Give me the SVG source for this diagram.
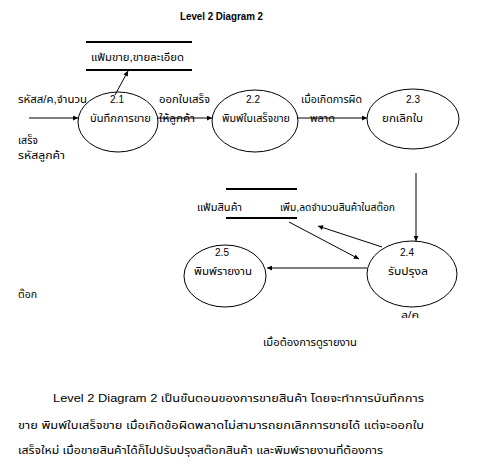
<svg xmlns="http://www.w3.org/2000/svg" width="494" height="467" viewBox="0 0 494 467">
<defs>
<style>
text{font-family:"Liberation Sans","Noto Sans Thai","Noto Sans",sans-serif;font-size:10px;fill:#000}
.t{font-weight:bold}
.c{text-anchor:middle}
.proc{fill:none;stroke:#000;stroke-width:1}
.store{stroke:#000;stroke-width:2}
.flow{stroke:#000;stroke-width:1;fill:none;marker-end:url(#ah)}
</style>
<marker id="ah" viewBox="0 0 10 10" refX="10" refY="5" markerWidth="6" markerHeight="5" orient="auto" markerUnits="userSpaceOnUse">
<path d="M0,0 L10,5 L0,10 z" fill="#000"/>
</marker>
</defs>
<rect width="494" height="467" fill="#fff"/>
<text class="t" x="180" y="20" textLength="83" lengthAdjust="spacingAndGlyphs">Level 2 Diagram 2</text>

<g id="connectors">
<line class="flow" x1="29" y1="118" x2="78" y2="118"/>
<line class="flow" x1="158" y1="118" x2="212" y2="118"/>
<line class="flow" x1="297" y1="118" x2="367" y2="118"/>
<line class="flow" x1="115" y1="95" x2="128" y2="71"/>
<line class="flow" x1="416" y1="173" x2="416" y2="241"/>
<line class="flow" x1="382" y1="247" x2="318" y2="226"/>
<line class="flow" x1="289" y1="222" x2="359" y2="259"/>
<line class="flow" x1="367" y1="268" x2="267" y2="268"/>
</g>

<g id="store1">
<line class="store" x1="86" y1="42" x2="192" y2="42"/>
<line class="store" x1="86" y1="70" x2="192" y2="70"/>
<text x="91" y="61" textLength="93" lengthAdjust="spacingAndGlyphs">แฟ้มขาย,ขายละเอียด</text>
</g>

<g id="store2">
<line class="store" x1="226" y1="189" x2="297" y2="189"/>
<line class="store" x1="226" y1="218" x2="297" y2="218"/>
<text x="197" y="211" textLength="45" lengthAdjust="spacingAndGlyphs">แฟ้มสินค้า</text>
</g>

<g id="p21">
<ellipse class="proc" cx="118" cy="122" rx="40" ry="30"/>
<text class="c" x="117" y="103">2.1</text>
<text x="90" y="122" textLength="61" lengthAdjust="spacingAndGlyphs">บันทึกการขาย</text>
</g>

<g id="p22">
<ellipse class="proc" cx="255" cy="121" rx="43" ry="31"/>
<text class="c" x="253" y="103">2.2</text>
<text x="222" y="122" textLength="68" lengthAdjust="spacingAndGlyphs">พิมพ์ใบเสร็จขาย</text>
</g>

<g id="p23">
<ellipse class="proc" cx="413" cy="119" rx="46" ry="30"/>
<text class="c" x="413" y="103">2.3</text>
<text x="382" y="122" textLength="41" lengthAdjust="spacingAndGlyphs">ยกเลิกใบ</text>
</g>

<g id="p24">
<ellipse class="proc" cx="412" cy="274" rx="45" ry="33"/>
<text class="c" x="407" y="256">2.4</text>
<text x="388" y="275" textLength="40" lengthAdjust="spacingAndGlyphs">รับปรุงล</text>
</g>

<g id="p25">
<ellipse class="proc" cx="225" cy="276" rx="41" ry="31"/>
<text class="c" x="222" y="256">2.5</text>
<text x="194" y="275" textLength="58" lengthAdjust="spacingAndGlyphs">พิมพ์รายงาน</text>
</g>

<g id="labels">
<text x="18" y="103" textLength="69" lengthAdjust="spacingAndGlyphs">รหัสส/ค,จำนวน</text>
<text x="18" y="144" textLength="20" lengthAdjust="spacingAndGlyphs">เสร็จ</text>
<text x="18" y="159" textLength="47" lengthAdjust="spacingAndGlyphs">รหัสลูกค้า</text>
<text x="18" y="298" textLength="19" lengthAdjust="spacingAndGlyphs">ต๊อก</text>
<text x="159" y="103" textLength="51" lengthAdjust="spacingAndGlyphs">ออกใบเสร็จ</text>
<text x="159" y="122" textLength="36" lengthAdjust="spacingAndGlyphs">ให้ลูกค้า</text>
<text x="301" y="103" textLength="61" lengthAdjust="spacingAndGlyphs">เมื่อเกิดการผิด</text>
<text x="310" y="122" textLength="25" lengthAdjust="spacingAndGlyphs">พลาด</text>
<text x="280" y="211" textLength="115" lengthAdjust="spacingAndGlyphs">เพิ่ม,ลดจำนวนสินค้าในสต๊อก</text>
<text x="401" y="318" style="font-size:9px" textLength="18" lengthAdjust="spacingAndGlyphs">ล/ค</text>
<text x="263" y="346" textLength="94" lengthAdjust="spacingAndGlyphs">เมื่อต้องการดูรายงาน</text>
</g>

<g id="paragraph">
<text x="53" y="402" textLength="371" lengthAdjust="spacingAndGlyphs">Level 2 Diagram 2 เป็นขั้นตอนของการขายสินค้า โดยจะทำการบันทึกการ</text>
<text x="18" y="429" textLength="406" lengthAdjust="spacingAndGlyphs">ขาย พิมพ์ใบเสร็จขาย เมื่อเกิดข้อผิดพลาดไม่สามารถยกเลิกการขายได้ แต่จะออกใบ</text>
<text x="18" y="454" textLength="365" lengthAdjust="spacingAndGlyphs">เสร็จใหม่ เมื่อขายสินค้าได้ก็ไปปรับปรุงสต๊อกสินค้า และพิมพ์รายงานที่ต้องการ</text>
</g>
</svg>
